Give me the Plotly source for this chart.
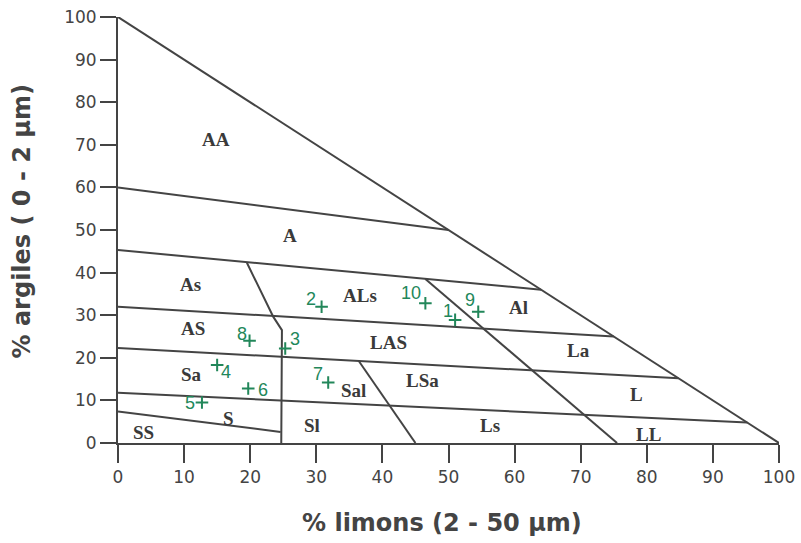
import plotly.graph_objects as go

# ---- data ----
# boundary polylines of the texture triangle (x = % limons, y = % argiles)
boundary_x = [
    [0, 100],            # hypotenuse
    [0, 50],             # AA / A
    [0, 64],             # A / As-ALs-Al
    [0, 75],             # As-ALs-Al / AS-LAS-La
    [0, 84.8],           # AS-LAS-La / Sa-Sal-LSa-L
    [0, 95.2],           # Sa-Sal-LSa-L / S-Sl-Ls-LL
    [0, 24.6],           # S / SS
    [19.5, 23.5, 24.8, 24.7],  # sandy / loamy separator
    [46.5, 75.5],        # ALs-LAS / Al-La-L-LL
    [36.4, 45],          # Sal-Sl / LSa-Ls
]
boundary_y = [
    [100, 0],
    [60, 50],
    [45.3, 36],
    [32, 25],
    [22.3, 15.2],
    [11.8, 4.8],
    [7.4, 2.6],
    [42.3, 29.6, 26.5, 0],
    [38.5, 0],
    [19.3, 0],
]

region_names = ["AA", "A", "As", "ALs", "Al", "AS", "LAS", "La", "Sa", "Sal",
                "LSa", "L", "S", "Sl", "Ls", "SS", "LL"]
region_x = [14.8, 26.0, 10.9, 36.6, 60.6, 11.4, 40.9, 69.6, 11.1, 35.7,
            46.0, 78.5, 16.7, 29.4, 56.3, 3.9, 80.2]
region_y = [71.2, 48.8, 37.1, 34.7, 31.8, 26.8, 23.5, 21.7, 16.0, 12.3,
            14.6, 11.5, 5.8, 4.2, 4.2, 2.4, 1.9]

sample_ids = ["1", "2", "3", "4", "5", "6", "7", "8", "9", "10"]
sample_limons = [51.0, 30.8, 25.3, 15.0, 12.7, 19.7, 31.8, 19.9, 54.5, 46.5]
sample_argiles = [28.9, 32.0, 22.2, 18.3, 9.5, 12.8, 14.2, 24.0, 30.8, 32.8]

tick_vals = [0, 10, 20, 30, 40, 50, 60, 70, 80, 90, 100]

# label offsets (pixels) for the sample numbers
label_dx = [-7, -11, 10, 9, -12, 15, -10, -8, -8, -14]
label_dy = [9, 8, 9, -7, 0, -2, 9, 7, 12, 10]

LINE = "#444444"
GREEN = "#22875a"

fig = go.Figure()

for bx, by in zip(boundary_x, boundary_y):
    fig.add_trace(go.Scatter(x=bx, y=by, mode="lines",
                             line=dict(color=LINE, width=2),
                             hoverinfo="skip", showlegend=False))

fig.add_trace(go.Scatter(x=sample_limons, y=sample_argiles, mode="markers",
                         marker=dict(symbol="cross-thin", size=9,
                                     line=dict(color=GREEN, width=2)),
                         showlegend=False, cliponaxis=False))

annotations = []
for name, rx, ry in zip(region_names, region_x, region_y):
    annotations.append(dict(x=rx, y=ry, text="<b>" + name + "</b>",
                            showarrow=False,
                            font=dict(family="Liberation Serif", size=19,
                                      color="#3a3a3a"),
                            xanchor="center", yanchor="middle"))

for sid, sx, sy, dx, dy in zip(sample_ids, sample_limons, sample_argiles,
                               label_dx, label_dy):
    annotations.append(dict(x=sx, y=sy, text=sid, showarrow=False,
                            xshift=dx, yshift=dy,
                            font=dict(family="Liberation Sans", size=18,
                                      color=GREEN),
                            xanchor="center", yanchor="middle"))

annotations.append(dict(xref="paper", yref="paper", x=0.49, y=0, yshift=-80,
                        text="<b>% limons (2 - 50 µm)</b>", showarrow=False,
                        font=dict(family="DejaVu Sans", size=24, color="#444"),
                        xanchor="center", yanchor="middle"))
annotations.append(dict(xref="paper", yref="paper", x=0, xshift=-96, y=0.52,
                        text="<b>% argiles ( 0 - 2 µm)</b>", showarrow=False,
                        textangle=-90,
                        font=dict(family="DejaVu Sans", size=24, color="#444"),
                        xanchor="center", yanchor="middle"))

axis_common = dict(range=[0, 100], tickvals=tick_vals, showgrid=False,
                   zeroline=False, showline=True, linecolor=LINE, linewidth=2,
                   ticks="outside", tickcolor=LINE, tickwidth=2,
                   tickfont=dict(family="DejaVu Sans", size=17, color="#444"),
                   fixedrange=True, automargin=False)

fig.update_layout(
    width=801, height=543,
    margin=dict(l=118, r=22, t=17, b=100),
    paper_bgcolor="white", plot_bgcolor="white",
    xaxis=dict(**axis_common, ticklen=18),
    yaxis=dict(**axis_common, ticklen=16),
    annotations=annotations,
    showlegend=False,
)

fig.write_html("out.html")
